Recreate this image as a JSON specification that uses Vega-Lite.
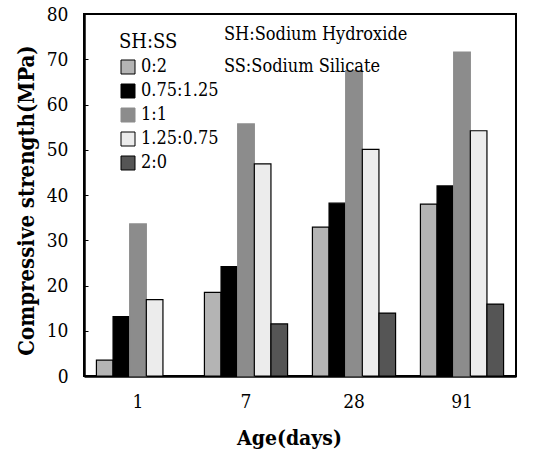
{
  "$schema": "https://vega.github.io/schema/vega-lite/v6.json",
  "width": 432,
  "height": 362,
  "autosize": {"type": "none"},
  "padding": {"left": 84, "top": 14, "right": 20, "bottom": 73},
  "background": "white",
  "config": {
    "view": {"stroke": "black", "strokeWidth": 2},
    "font": "DejaVu Serif Condensed",
    "axis": {"labelFont": "DejaVu Serif Condensed", "titleFont": "DejaVu Serif Condensed", "labelColor": "black", "titleColor": "black", "domainColor": "black", "domainWidth": 2.5, "tickColor": "black", "grid": false},
    "legend": {"labelFont": "DejaVu Serif Condensed", "titleFont": "DejaVu Serif Condensed"}
  },
  "datasets": {
    "bars": [
      {"age": "1", "ratio": "0:2", "strength": 3.5},
      {"age": "1", "ratio": "0.75:1.25", "strength": 13.1},
      {"age": "1", "ratio": "1:1", "strength": 33.6},
      {"age": "1", "ratio": "1.25:0.75", "strength": 16.9},
      {"age": "7", "ratio": "0:2", "strength": 18.5},
      {"age": "7", "ratio": "0.75:1.25", "strength": 24.2},
      {"age": "7", "ratio": "1:1", "strength": 55.7},
      {"age": "7", "ratio": "1.25:0.75", "strength": 46.9},
      {"age": "7", "ratio": "2:0", "strength": 11.5},
      {"age": "28", "ratio": "0:2", "strength": 32.9},
      {"age": "28", "ratio": "0.75:1.25", "strength": 38.2},
      {"age": "28", "ratio": "1:1", "strength": 67.5},
      {"age": "28", "ratio": "1.25:0.75", "strength": 50.1},
      {"age": "28", "ratio": "2:0", "strength": 13.9},
      {"age": "91", "ratio": "0:2", "strength": 38.0},
      {"age": "91", "ratio": "0.75:1.25", "strength": 42.0},
      {"age": "91", "ratio": "1:1", "strength": 71.6},
      {"age": "91", "ratio": "1.25:0.75", "strength": 54.2},
      {"age": "91", "ratio": "2:0", "strength": 15.9}
    ],
    "notes": [
      {"age": "7", "level": 74.3, "note": "SH:Sodium Hydroxide"},
      {"age": "7", "level": 67.2, "note": "SS:Sodium Silicate"}
    ]
  },
  "layer": [
    {
      "data": {"name": "bars"},
      "mark": {"type": "bar", "strokeWidth": 1.2},
      "encoding": {
        "x": {
          "field": "age", "type": "nominal", "sort": ["1", "7", "28", "91"],
          "scale": {"paddingInner": 0.23, "paddingOuter": 0.115},
          "title": "Age(days)",
          "axis": {"labelAngle": 0, "labelFontSize": 19, "ticks": false, "labelPadding": 16, "titleFontSize": 21, "titleFontWeight": "bold", "titleX": 205, "titleY": 68, "titleBaseline": "alphabetic", "titleAnchor": "middle"}
        },
        "xOffset": {"field": "ratio", "type": "nominal", "sort": ["0:2", "0.75:1.25", "1:1", "1.25:0.75", "2:0"], "scale": {"paddingInner": 0, "paddingOuter": 0}},
        "y": {
          "field": "strength", "type": "quantitative",
          "scale": {"domain": [0, 80], "nice": false},
          "title": "Compressive strength(MPa)",
          "axis": {"values": [0, 10, 20, 30, 40, 50, 60, 70, 80], "labelFontSize": 19, "tickSize": -4, "tickWidth": 1, "labelPadding": 20, "titleFontSize": 22, "titleFontWeight": "bold", "titleX": -46, "titleY": 186, "titleAnchor": "middle"}
        },
        "fill": {
          "field": "ratio", "type": "nominal",
          "sort": ["0:2", "0.75:1.25", "1:1", "1.25:0.75", "2:0"],
          "scale": {"domain": ["0:2", "0.75:1.25", "1:1", "1.25:0.75", "2:0"], "range": ["#b4b4b4", "#000000", "#8c8c8c", "#ececec", "#555555"]},
          "title": "SH:SS",
          "legend": {"orient": "none", "legendX": 35, "legendY": 18, "titleFontSize": 20, "titleFontWeight": "normal", "titleColor": "black", "labelFontSize": 18, "labelColor": "black", "symbolType": "square", "symbolSize": 196, "symbolStrokeWidth": 1, "rowPadding": 6, "labelOffset": 4, "titlePadding": 6}
        },
        "stroke": {
          "field": "ratio", "type": "nominal",
          "sort": ["0:2", "0.75:1.25", "1:1", "1.25:0.75", "2:0"],
          "scale": {"domain": ["0:2", "0.75:1.25", "1:1", "1.25:0.75", "2:0"], "range": ["#000000", "#000000", "#8c8c8c", "#000000", "#000000"]},
          "title": "SH:SS"
        }
      }
    },
    {
      "data": {"name": "notes"},
      "mark": {"type": "text", "align": "left", "baseline": "alphabetic", "dx": -22, "fontSize": 18, "color": "black"},
      "encoding": {
        "x": {"field": "age", "type": "nominal", "sort": ["1", "7", "28", "91"]},
        "y": {"field": "level", "type": "quantitative"},
        "text": {"field": "note"}
      }
    }
  ]
}
